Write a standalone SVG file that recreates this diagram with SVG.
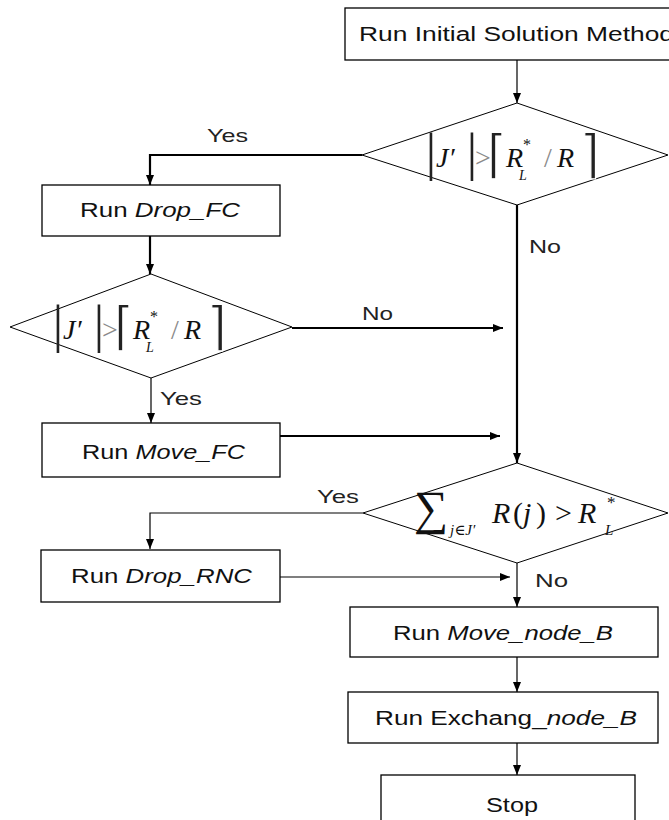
<svg xmlns="http://www.w3.org/2000/svg" width="669" height="820" viewBox="0 0 669 820">
<defs>
<style>
.box{fill:#fff;stroke:#000;stroke-width:1.3}
.dia{fill:#fff;stroke:#000;stroke-width:1}
.c{fill:none;stroke:#000}
.thick{stroke-width:2.2}
.thin{stroke-width:1.2}
.t{font-family:"Liberation Sans",Arial,sans-serif;font-size:20px;fill:#111}
.l{font-family:"Liberation Sans",Arial,sans-serif;font-size:19px;fill:#222}
.it{font-style:italic}
.m{font-family:"Liberation Serif","DejaVu Serif",serif;fill:#111}
.mi{font-family:"Liberation Serif","DejaVu Serif",serif;font-style:italic;fill:#111}
.g{fill:#8a8a8a}
.bar{font-family:"Liberation Serif","DejaVu Serif",serif;font-size:52px;fill:#222;text-anchor:middle}
.brk{font-family:"DejaVu Sans ExtraLight","DejaVu Sans","DejaVu Serif",sans-serif;font-size:52px;fill:#222;text-anchor:middle;stroke:#fff;stroke-width:1.2}
</style>
<marker id="ah" viewBox="0 0 10 8" refX="10" refY="4" markerWidth="10" markerHeight="8" markerUnits="userSpaceOnUse" orient="auto">
<path d="M0,0 L10,4 L0,8 z" fill="#000"/>
</marker>
</defs>
<rect width="669" height="820" fill="#fff"/>

<g id="connectors">
<line class="c thin" x1="517" y1="60" x2="517" y2="103" marker-end="url(#ah)"/>
<polyline class="c thick" points="362,155 150,155 150,185" marker-end="url(#ah)"/>
<line class="c thick" x1="150" y1="236" x2="150" y2="274" marker-end="url(#ah)"/>
<line class="c thick" x1="292" y1="328" x2="503" y2="328" marker-end="url(#ah)"/>
<line class="c thin" x1="151" y1="378" x2="151" y2="423" marker-end="url(#ah)"/>
<line class="c thick" x1="280" y1="436" x2="500" y2="436" marker-end="url(#ah)"/>
<line class="c thick" x1="517" y1="205" x2="517" y2="463" marker-end="url(#ah)"/>
<polyline class="c thin" points="363,513 150,513 150,549" marker-end="url(#ah)"/>
<line class="c thin" x1="280" y1="577" x2="510" y2="577" marker-end="url(#ah)"/>
<line class="c thin" x1="517" y1="563" x2="517" y2="607" marker-end="url(#ah)"/>
<line class="c thin" x1="517" y1="657" x2="517" y2="692" marker-end="url(#ah)"/>
<line class="c thin" x1="517" y1="743" x2="517" y2="775" marker-end="url(#ah)"/>
<text class="l" x="207" y="142" textLength="41" lengthAdjust="spacingAndGlyphs">Yes</text>
<text class="l" x="529" y="253" textLength="32" lengthAdjust="spacingAndGlyphs">No</text>
<text class="l" x="362" y="320" textLength="31" lengthAdjust="spacingAndGlyphs">No</text>
<text class="l" x="160" y="405" textLength="42" lengthAdjust="spacingAndGlyphs">Yes</text>
<text class="l" x="317" y="503" textLength="42" lengthAdjust="spacingAndGlyphs">Yes</text>
<text class="l" x="535" y="587" textLength="33" lengthAdjust="spacingAndGlyphs">No</text>
</g>

<g id="start">
<rect class="box" x="345" y="8" width="340" height="52"/>
<text class="t" x="359" y="41" textLength="315" lengthAdjust="spacingAndGlyphs">Run Initial Solution Method</text>
</g>

<g id="decision1">
<polygon class="dia" points="517,103 668,155 517,205 362,155"/>
<text class="bar" x="431" y="170">|</text>
<text class="mi" x="436" y="167" font-size="28">J′</text>
<text class="bar" x="472" y="170">|</text>
<text class="m g" x="475" y="167" font-size="28">&gt;</text>
<text class="brk" x="497" y="172">⌈</text>
<text class="mi" x="506" y="167" font-size="28">R</text>
<text class="m" x="523" y="150" font-size="16">*</text>
<text class="mi" x="519" y="180" font-size="14">L</text>
<text class="m g" x="544" y="167" font-size="28">/</text>
<text class="mi" x="557" y="167" font-size="28">R</text>
<text class="brk" x="590" y="172">⌉</text>
</g>

<g id="drop_fc">
<rect class="box" x="42" y="185" width="238" height="51"/>
<text class="t" x="80" y="217" textLength="160" lengthAdjust="spacingAndGlyphs">Run <tspan class="it">Drop_FC</tspan></text>
</g>

<g id="decision2">
<polygon class="dia" points="151,274 292,327 151,378 10,327"/>
<text class="bar" x="58" y="342">|</text>
<text class="mi" x="63" y="339" font-size="28">J′</text>
<text class="bar" x="99" y="342">|</text>
<text class="m g" x="102" y="339" font-size="28">&gt;</text>
<text class="brk" x="124" y="344">⌈</text>
<text class="mi" x="133" y="339" font-size="28">R</text>
<text class="m" x="150" y="322" font-size="16">*</text>
<text class="mi" x="146" y="352" font-size="14">L</text>
<text class="m g" x="171" y="339" font-size="28">/</text>
<text class="mi" x="184" y="339" font-size="28">R</text>
<text class="brk" x="217" y="344">⌉</text>
</g>

<g id="move_fc">
<rect class="box" x="42" y="423" width="238" height="54"/>
<text class="t" x="82" y="459" textLength="163" lengthAdjust="spacingAndGlyphs">Run <tspan class="it">Move_FC</tspan></text>
</g>

<g id="decision3">
<polygon class="dia" points="517,463 668,513 517,563 363,513"/>
<text class="m" x="414" y="524" font-size="48">∑</text>
<text class="mi" x="450" y="535" font-size="15">j∈J′</text>
<text class="mi" x="492" y="523" font-size="30">R</text>
<text class="m" x="513" y="523" font-size="30">(</text>
<text class="mi" x="523" y="523" font-size="30">j</text>
<text class="m" x="536" y="523" font-size="30">)</text>
<text class="m" x="555" y="523" font-size="30">&gt;</text>
<text class="mi" x="578" y="523" font-size="30">R</text>
<text class="m" x="607" y="508" font-size="17">*</text>
<text class="mi" x="605" y="535" font-size="15">L</text>
</g>

<g id="drop_rnc">
<rect class="box" x="41" y="550" width="239" height="52"/>
<text class="t" x="71" y="583" textLength="181" lengthAdjust="spacingAndGlyphs">Run <tspan class="it">Drop_RNC</tspan></text>
</g>

<g id="move_node_b">
<rect class="box" x="350" y="607" width="308" height="50"/>
<text class="t" x="393" y="640" textLength="220" lengthAdjust="spacingAndGlyphs">Run <tspan class="it">Move_node_B</tspan></text>
</g>

<g id="exchang_node_b">
<rect class="box" x="348" y="692" width="310" height="51"/>
<text class="t" x="375" y="725" textLength="262" lengthAdjust="spacingAndGlyphs">Run Exchang_<tspan class="it">node_B</tspan></text>
</g>

<g id="stop">
<rect class="box" x="381" y="775" width="254" height="60"/>
<text class="t" x="486" y="812" textLength="52" lengthAdjust="spacingAndGlyphs">Stop</text>
</g>
</svg>
